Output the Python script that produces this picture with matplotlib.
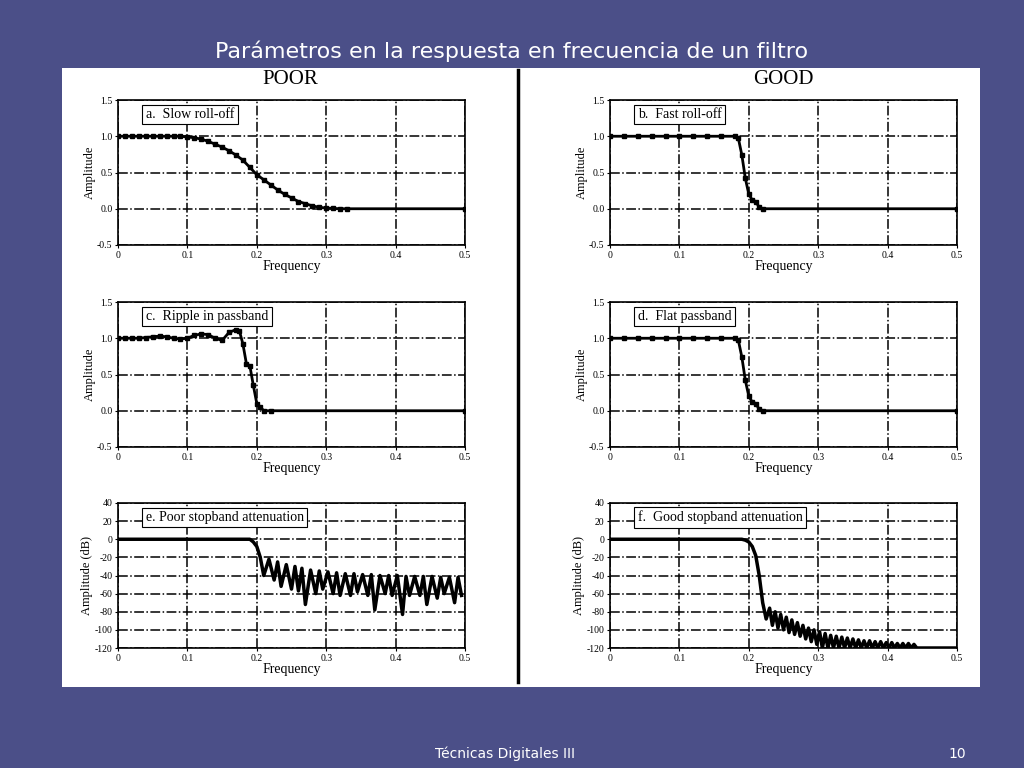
import matplotlib.pyplot as plt
import numpy as np
from matplotlib.patches import Rectangle

# ---- data ----
a_x = [0, .01, .02, .03, .04, .05, .06, .07, .08, .09, .10, .11, .12, .13, .14, .15, .16, .17, .18, .19,
       .20, .21, .22, .23, .24, .25, .26, .27, .28, .29, .30, .31, .32, .33, .5]
a_y = [1, 1, 1, 1, 1, 1, 1, 1, 1, 1, .99, .98, .96, .93, .89, .85, .80, .74, .67, .57,
       .47, .40, .33, .26, .20, .15, .10, .07, .04, .02, .01, .005, 0, 0, 0]

b_x = [0, .02, .04, .06, .08, .10, .12, .14, .16, .18, .185, .19, .195, .20, .205, .21, .215, .22, .5]
b_y = [1, 1, 1, 1, 1, 1, 1, 1, 1, 1, .97, .74, .42, .2, .12, .1, .02, 0, 0]

c_x = [0, .01, .02, .03, .04, .05, .06, .07, .08, .09, .10, .11, .12, .13, .14, .15, .16, .17, .175,
       .18, .185, .19, .195, .20, .205, .21, .22, .5]
c_y = [1, 1, 1, 1, 1.01, 1.02, 1.03, 1.02, 1.0, .99, 1.0, 1.04, 1.06, 1.05, 1.0, .97, 1.08, 1.12, 1.1,
       .92, .65, .62, .35, .1, .05, 0, 0, 0]

e_pass_x = [0, .19, .195, .2, .205]
e_pass_y = [0, 0, -3, -8, -20]
e_null_x = [.21, .225, .235, .25, .26, .27, .285, .295, .31, .32, .335, .345, .36, .37, .385, .395,
            .41, .42, .435, .445, .46, .47, .485, .495]
e_null_y = [-40, -45, -52, -55, -57, -72, -60, -55, -60, -62, -62, -58, -62, -78, -60, -62,
            -83, -62, -62, -72, -65, -60, -70, -62]
e_peak_y = [-22, -25, -28, -30, -32, -34, -35, -36, -37, -38, -38, -39, -39, -40, -40, -40,
            -41, -41, -41, -41, -42, -42, -42, -42]

f_pass_x = [0, .19, .195, .2, .205, .21, .215, .22, .225]
f_pass_y = [0, 0, -1, -3, -8, -18, -40, -70, -88]
f_peak_x = [.23, .238, .246, .254, .262, .27, .278, .286, .294, .302, .31, .318, .326, .334,
            .342, .35, .358, .366, .374, .382, .39, .398, .406, .414, .422, .43, .438]
f_peak_y = [-76, -80, -83, -86, -89, -92, -95, -98, -100, -102, -104, -106, -107, -108,
            -109, -110, -111, -112, -112, -113, -113, -114, -114, -115, -115, -115, -116]
f_null_y = [-95, -98, -100, -103, -105, -107, -110, -113, -116, -120, -120, -120, -120, -120,
            -120, -120, -120, -120, -120, -120, -120, -120, -120, -120, -120, -120, -120]


def interleave(nx, ny, py):
    xs, ys = [], []
    for i in range(len(nx)):
        xs.append(nx[i]); ys.append(ny[i])
        nxt = nx[i + 1] if i + 1 < len(nx) else nx[i] + 0.01
        xs.append((nx[i] + nxt) / 2); ys.append(py[i])
    return xs, ys


plt.rcParams['axes.unicode_minus'] = False
serif = ['Liberation Serif', 'DejaVu Serif']

fig = plt.figure(figsize=(10.24, 7.68), dpi=100)
fig.patch.set_facecolor('#4b4f88')
fig.patches.append(Rectangle((62 / 1024, 1 - 687 / 768), 918 / 1024, 619 / 768, zorder=-5,
                             transform=fig.transFigure, facecolor='white', edgecolor='none'))
fig.text(0.5, 1 - 51 / 768, 'Parámetros en la respuesta en frecuencia de un filtro',
         ha='center', va='center', color='white', fontsize=16)
fig.text(505 / 1024, 1 - 754 / 768, 'Técnicas Digitales III', ha='center', va='center',
         color='white', fontsize=10)
fig.text(957 / 1024, 1 - 754 / 768, '10', ha='center', va='center', color='white', fontsize=10)
fig.text(290 / 1024, 1 - 79 / 768, 'POOR', ha='center', va='center', fontsize=15, family=serif)
fig.text(783 / 1024, 1 - 79 / 768, 'GOOD', ha='center', va='center', fontsize=15, family=serif)
fig.add_artist(plt.Line2D([518 / 1024] * 2, [1 - 682 / 768, 1 - 70 / 768],
                          transform=fig.transFigure, color='black', lw=2.5))


def panel(x0, ybot, label, db=False):
    ax = fig.add_axes([x0 / 1024, 1 - ybot / 768, 347 / 1024, 145 / 768])
    ax.set_xlim(0, 0.5)
    ax.set_xticks([0, .1, .2, .3, .4, .5])
    ax.set_xticklabels(['0', '0.1', '0.2', '0.3', '0.4', '0.5'])
    if db:
        ax.set_ylim(-120, 40)
        ax.set_yticks(range(-120, 41, 20))
        ax.set_ylabel('Amplitude (dB)', family=serif, fontsize=9, labelpad=1)
    else:
        ax.set_ylim(-0.5, 1.5)
        ax.set_yticks([-.5, 0, .5, 1, 1.5])
        ax.set_yticklabels(['-0.5', '0.0', '0.5', '1.0', '1.5'])
        ax.set_ylabel('Amplitude', family=serif, fontsize=9, labelpad=1)
    ax.set_xlabel('Frequency', family=serif, fontsize=10, labelpad=0)
    ax.grid(True, color='black', ls='-.', lw=1.1)
    ax.tick_params(labelsize=7, length=2, pad=2)
    for t in ax.get_xticklabels() + ax.get_yticklabels():
        t.set_family(serif)
    for s in ax.spines.values():
        s.set_linewidth(1.2)
    ax.text(0.08, 0.9, label, transform=ax.transAxes, family=serif, fontsize=10, va='center',
            bbox=dict(facecolor='white', edgecolor='black', lw=0.8, pad=2.5), zorder=5)
    return ax


ax = panel(118, 245, 'a.  Slow roll-off')
ax.plot(a_x, a_y, 'k-s', lw=2, ms=3.5)
ax = panel(610, 245, 'b.  Fast roll-off')
ax.plot(b_x, b_y, 'k-s', lw=2, ms=3.5)
ax = panel(118, 447, 'c.  Ripple in passband')
ax.plot(c_x, c_y, 'k-s', lw=2, ms=3.5)
ax = panel(610, 447, 'd.  Flat passband')
ax.plot(b_x, b_y, 'k-s', lw=2, ms=3.5)

ax = panel(118, 648, 'e. Poor stopband attenuation', db=True)
ex, ey = interleave(e_null_x, e_null_y, e_peak_y)
ax.plot(e_pass_x + ex[:-1], e_pass_y + ey[:-1], 'k-', lw=2.5)

ax = panel(610, 648, 'f.  Good stopband attenuation', db=True)
fx, fy = [], []
for i in range(len(f_peak_x)):
    fx += [f_peak_x[i], f_peak_x[i] + 0.004]
    fy += [f_peak_y[i], f_null_y[i]]
ax.plot(f_pass_x + fx + [0.5], f_pass_y + fy + [-120], 'k-', lw=2.5)

fig.savefig('out.png', dpi=100, facecolor=fig.get_facecolor())
